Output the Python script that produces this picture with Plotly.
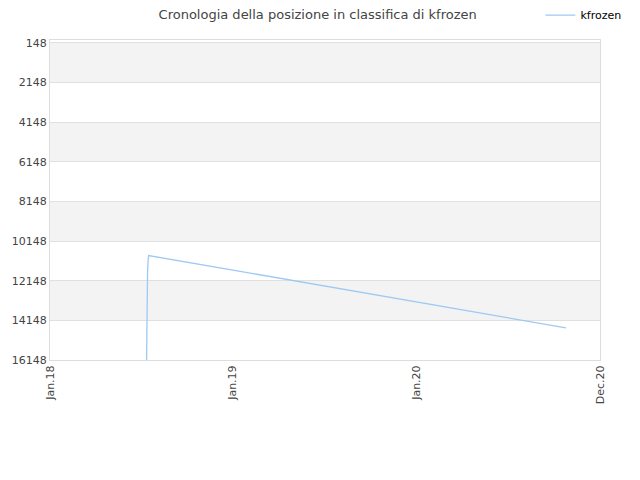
import plotly.graph_objects as go

# ranking history for kfrozen (lower rank value = better position)
dates = [
    "2018-07-07",
    "2018-07-07 12:00",
    "2018-07-08",
    "2018-07-08 12:00",
    "2018-07-09",
    "2018-07-10",
    "2018-07-11",
    "2020-09-26",
]
ranks = [16148, 14071, 12960, 12354, 11546, 11140, 10875, 14525]

y_ticks = [148, 2148, 4148, 6148, 8148, 10148, 12148, 14148, 16148]
x_tickvals = ["2018-01-01", "2018-12-21", "2019-12-11", "2020-12-01"]
x_ticktext = ["Jan.18", "Jan.19", "Jan.20", "Dec.20"]

fig = go.Figure(go.Scatter(
    x=dates,
    y=ranks,
    mode="lines",
    name="kfrozen",
    line=dict(color="#9ec9f3", width=1.3),
))

# alternating grey bands between gridlines
shapes = []
for i in range(0, len(y_ticks) - 1, 2):
    shapes.append(dict(
        type="rect", xref="paper", yref="y", layer="below",
        x0=0, x1=1, y0=y_ticks[i], y1=y_ticks[i + 1],
        fillcolor="#f3f3f3", line=dict(width=0),
    ))

# the page body adds an 8px margin, so the figure is a bit smaller
fig.update_layout(
    width=632,
    height=472,
    margin=dict(l=42, r=40, t=32, b=120, autoexpand=False),
    paper_bgcolor="white",
    plot_bgcolor="white",
    font=dict(family="DejaVu Sans", size=11, color="#444"),
    title=dict(
        text="Cronologia della posizione in classifica di kfrozen",
        x=0.49, xanchor="center", y=1, yanchor="top",
        pad=dict(t=2, b=0),
        font=dict(size=13, color="#444"),
    ),
    showlegend=True,
    legend=dict(
        orientation="h", x=1.048, xanchor="right", y=1.078, yanchor="middle",
        font=dict(size=11, color="#000"), itemwidth=30,
        bgcolor="rgba(0,0,0,0)",
    ),
    shapes=shapes,
    xaxis=dict(
        type="date",
        range=[x_tickvals[0], x_tickvals[-1]],
        tickvals=x_tickvals,
        ticktext=x_ticktext,
        tickangle=-90,
        showgrid=False,
        showline=True, linecolor="#dddddd", mirror=True,
        ticks="", zeroline=False, automargin=False,
    ),
    yaxis=dict(
        range=[16148, 0],
        tickvals=y_ticks,
        ticktext=[str(v) for v in y_ticks],
        showgrid=True, gridcolor="#e0e0e0",
        showline=True, linecolor="#dddddd", mirror=True,
        ticks="", zeroline=False, automargin=False,
    ),
)

fig.write_html("out.html")
